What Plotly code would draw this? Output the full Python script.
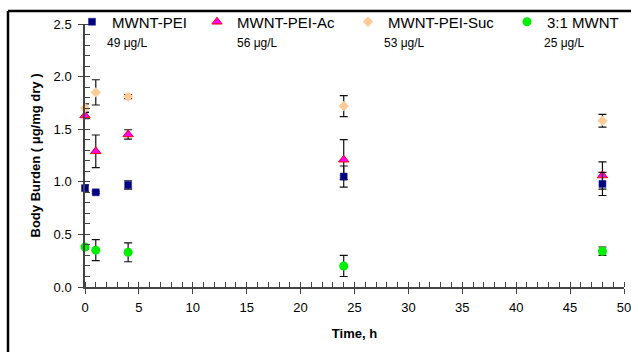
import plotly.graph_objects as go

# ---- data ----
time_h = [0, 1, 4, 24, 48]

pei = [0.94, 0.90, 0.97, 1.05, 0.98]
pei_err = [0.03, 0.01, 0.04, 0.10, 0.11]

pei_ac = [1.63, 1.29, 1.45, 1.21, 1.06]
pei_ac_err = [0.03, 0.155, 0.045, 0.19, 0.13]

pei_suc = [1.70, 1.85, 1.81, 1.72, 1.58]
pei_suc_err = [0.04, 0.12, 0.02, 0.10, 0.06]

mwnt31 = [0.38, 0.35, 0.33, 0.20, 0.34]
mwnt31_err = [0.02, 0.10, 0.09, 0.10, 0.04]

series_names = ["MWNT-PEI", "MWNT-PEI-Ac", "MWNT-PEI-Suc", "3:1 MWNT"]
conc_labels = ["49 μg/L", "56 μg/L", "53 μg/L", "25 μg/L"]

x_ticks = [0, 5, 10, 15, 20, 25, 30, 35, 40, 45, 50]
y_ticks = [0.0, 0.5, 1.0, 1.5, 2.0, 2.5]

# ---- geometry helpers (pixel layout of the 631x352 canvas) ----
W, H = 631, 352
L, R, T, B = 85, 7, 24, 65
pw, ph = W - L - R, H - T - B


def px_x(p):
    return (p - L) / pw


def px_y(p):
    return (H - B - p) / ph


FONT = "Arial, Liberation Sans, sans-serif"
err_style = dict(type="data", color="#111111", thickness=1.2, width=4)

fig = go.Figure()

fig.add_trace(go.Scatter(
    x=time_h, y=pei_ac, mode="markers", name=series_names[1], legend="legend2",
    cliponaxis=False,
    marker=dict(symbol="triangle-up", size=9, color="#FF00FF",
                line=dict(color="#FF0000", width=1)),
    error_y=dict(array=pei_ac_err, **err_style)))
fig.add_trace(go.Scatter(
    x=time_h, y=pei, mode="markers", name=series_names[0], legend="legend",
    cliponaxis=False,
    marker=dict(symbol="square", size=7, color="#000080",
                line=dict(color="#1a1aa0", width=0.5)),
    error_y=dict(array=pei_err, **err_style)))
fig.add_trace(go.Scatter(
    x=time_h, y=pei_suc, mode="markers", name=series_names[2], legend="legend3",
    cliponaxis=False,
    marker=dict(symbol="diamond", size=8, color="#FFCC99"),
    error_y=dict(array=pei_suc_err, **err_style)))
fig.add_trace(go.Scatter(
    x=time_h, y=mwnt31, mode="markers", name=series_names[3], legend="legend4",
    cliponaxis=False,
    marker=dict(symbol="circle", size=9, color="#00EE00"),
    error_y=dict(array=mwnt31_err, **err_style)))

axis_col = "#444444"
legend_x_px = [72, 197, 348, 507]
legend_y_px = 22
conc_x_px = [105, 235, 382, 542]
conc_y_px = 43

legends = {}
for i, key in enumerate(["legend", "legend2", "legend3", "legend4"]):
    legends[key] = dict(
        x=px_x(legend_x_px[i]), y=px_y(legend_y_px), xanchor="left", yanchor="middle",
        xref="paper", yref="paper", bgcolor="rgba(0,0,0,0)", borderwidth=0,
        font=dict(family=FONT, size=15, color="black"), itemwidth=30,
    )

annotations = []
for i, txt in enumerate(conc_labels):
    annotations.append(dict(
        text=txt, x=px_x(conc_x_px[i]), y=px_y(conc_y_px), xref="paper", yref="paper",
        xanchor="left", yanchor="middle", showarrow=False,
        font=dict(family=FONT, size=12, color="black")))

frame_line = dict(color="black", width=2.5)

fig.update_layout(
    width=W, height=H,
    margin=dict(l=L, r=R, t=T, b=B, autoexpand=False),
    paper_bgcolor="white", plot_bgcolor="white",
    font=dict(family=FONT, size=13, color="black"),
    showlegend=True,
    annotations=annotations,
    xaxis=dict(
        range=[0, 50], tickvals=x_ticks, ticktext=[str(v) for v in x_ticks],
        showgrid=False, zeroline=False, showline=True, linecolor=axis_col, linewidth=1.5,
        ticks="outside", ticklen=5, tickwidth=1.2, tickcolor=axis_col,
        minor=dict(dtick=1, ticks="inside", ticklen=5, tickwidth=1, tickcolor=axis_col),
        tickfont=dict(size=13, family=FONT, color="black"),
        ticklabelstandoff=3, ticklabeloverflow="allow",
        title=dict(text="<b>Time, h</b>", font=dict(size=13, family=FONT), standoff=15),
        automargin=False,
    ),
    yaxis=dict(
        range=[0, 2.5], tickvals=y_ticks, ticktext=[f"{v:.1f}" for v in y_ticks],
        showgrid=False, zeroline=False, showline=True, linecolor=axis_col, linewidth=1.5,
        ticks="outside", ticklen=5, tickwidth=1.2, tickcolor=axis_col,
        minor=dict(dtick=0.1, ticks="inside", ticklen=5, tickwidth=1, tickcolor=axis_col),
        tickfont=dict(size=13, family=FONT, color="black"),
        ticklabelstandoff=4, ticklabeloverflow="allow",
        title=dict(text="<b>Body Burden ( μg/mg dry )</b>", font=dict(size=13, family=FONT), standoff=10),
        automargin=False,
    ),
    shapes=[
        dict(type="line", xref="paper", yref="paper", x0=px_x(8), x1=px_x(W + 5),
             y0=px_y(11), y1=px_y(11), line=frame_line, layer="above"),
        dict(type="line", xref="paper", yref="paper", x0=px_x(8), x1=px_x(8),
             y0=px_y(11), y1=px_y(H + 5), line=frame_line, layer="above"),
    ],
    **legends,
)

post = (
    "document.documentElement.style.margin='0';"
    "document.body.style.margin='0';document.body.style.padding='0';"
    "document.body.style.overflow='hidden';"
    "document.documentElement.style.overflow='hidden';"
    "var st=document.createElement('style');"
    "st.textContent='.scrollbar{display:none !important;} ::-webkit-scrollbar{display:none;width:0;height:0;}';"
    "document.head.appendChild(st);"
)
fig.write_html("out.html", config={"displayModeBar": False}, post_script=post)
